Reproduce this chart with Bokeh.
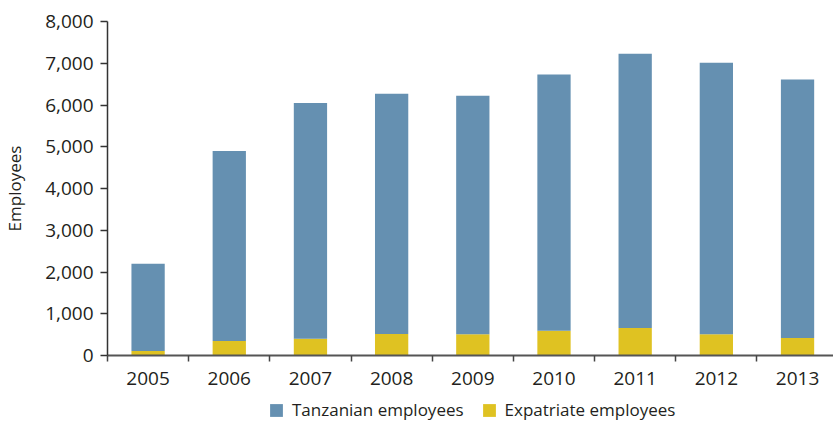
from bokeh.plotting import figure
from bokeh.models import (ColumnDataSource, Range1d, FixedTicker, NumeralTickFormatter,
                          Legend, LegendItem)
from bokeh.layouts import column
from bokeh.embed import file_html
from bokeh.resources import INLINE

years = ["2005", "2006", "2007", "2008", "2009", "2010", "2011", "2012", "2013"]
tanzanian = [2090, 4550, 5650, 5755, 5710, 6140, 6570, 6500, 6190]
expatriate = [110, 350, 400, 515, 510, 590, 660, 510, 420]
y_ticks = [0, 1000, 2000, 3000, 4000, 5000, 6000, 7000, 8000]
series_names = ["Tanzanian employees", "Expatriate employees"]

BLUE = "#6590b1"
YELLOW = "#dfc222"
TEXT = "#231f20"
FONT = "Open Sans"

xs = list(range(len(years)))
source = ColumnDataSource(dict(x=xs, expat=expatriate, tanz=tanzanian))

p = figure(width=833, height=395, output_backend="svg", toolbar_location=None,
           x_range=Range1d(-0.5, 8.443), y_range=Range1d(0, 8000),
           min_border_left=105, min_border_right=0, min_border_top=21,
           min_border_bottom=40)
p.outline_line_color = None
p.xgrid.visible = False
p.ygrid.visible = False

rs = p.vbar_stack(["expat", "tanz"], x="x", width=0.41, color=[YELLOW, BLUE],
                  line_color=None, source=source)

# x axis
xa = p.xaxis[0]
xa.ticker = FixedTicker(ticks=xs, minor_ticks=[i - 0.5 for i in range(len(years) + 1)])
xa.major_label_overrides = {i: y for i, y in zip(xs, years)}
xa.major_tick_out = 0
xa.major_tick_in = 0
xa.minor_tick_out = 6
xa.minor_tick_in = 0
xa.minor_tick_line_color = "#444444"
xa.minor_tick_line_width = 1.5
xa.axis_line_color = "#555555"
xa.axis_line_width = 2
xa.major_label_standoff = 10
xa.major_label_text_font = FONT
xa.major_label_text_font_size = "19px"
xa.major_label_text_color = TEXT

# y axis
ya = p.yaxis[0]
ya.ticker = FixedTicker(ticks=y_ticks, minor_ticks=[])
ya.formatter = NumeralTickFormatter(format="0,0")
ya.major_tick_out = 7
ya.major_tick_in = 0
ya.minor_tick_out = 0
ya.minor_tick_in = 0
ya.major_tick_line_color = "#333333"
ya.major_tick_line_width = 1.5
ya.axis_line_color = "#333333"
ya.axis_line_width = 1.5
ya.major_label_standoff = 7
ya.major_label_text_font = FONT
ya.major_label_text_font_size = "19px"
ya.major_label_text_color = TEXT
ya.axis_label = "Employees"
ya.axis_label_text_font = FONT
ya.axis_label_text_font_size = "17px"
ya.axis_label_text_font_style = "normal"
ya.axis_label_text_color = TEXT
ya.axis_label_standoff = 16

# legend strip (its frame is aligned with the main frame by the column layout)
lg = figure(width=833, height=26, output_backend="svg", toolbar_location=None,
            x_axis_type=None, y_axis_type=None, x_range=Range1d(0, 1), y_range=Range1d(0, 1),
            min_border_left=0, min_border_right=0, min_border_top=0, min_border_bottom=0)
lg.outline_line_color = None
lg.xgrid.visible = False
lg.ygrid.visible = False
d1 = lg.vbar(x=[5], top=[5], bottom=[4], width=0.1, fill_color=BLUE, line_color=None)
d2 = lg.vbar(x=[5], top=[5], bottom=[4], width=0.1, fill_color=YELLOW, line_color=None)
legend = Legend(items=[LegendItem(label=series_names[0], renderers=[d1]),
                       LegendItem(label=series_names[1], renderers=[d2])],
                location=(161, 0), orientation="horizontal",
                glyph_width=16, glyph_height=16, label_standoff=8, spacing=17,
                padding=0, margin=0, border_line_color=None, background_fill_alpha=0,
                label_text_font=FONT, label_text_font_size="17px", label_text_color=TEXT,
                label_height=20)
lg.add_layout(legend)

layout = column(p, lg, spacing=0)
open("out.html", "w").write(file_html(layout, INLINE))
